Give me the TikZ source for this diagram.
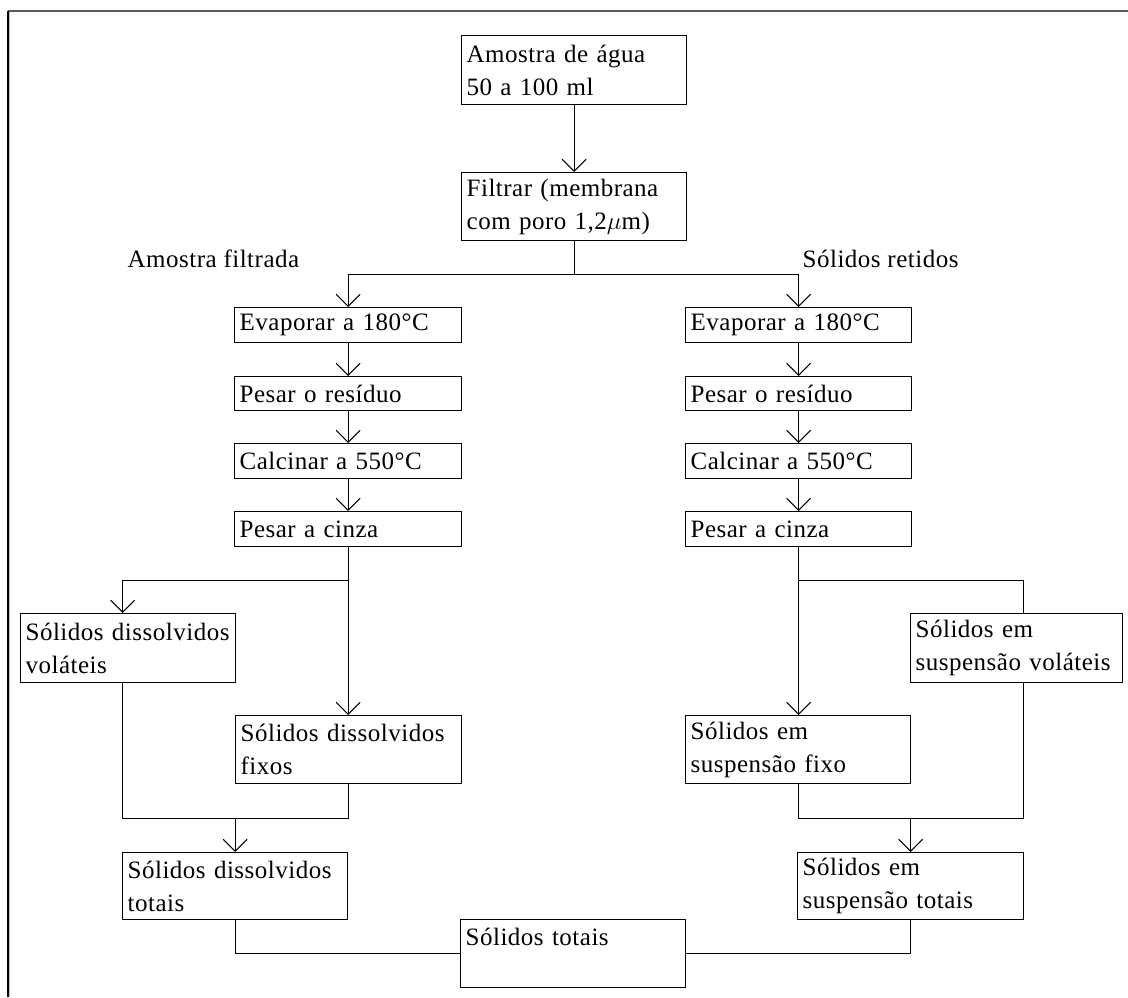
\documentclass[tikz,border=0pt]{standalone}
\usepackage{fontspec}
\setmainfont{Liberation Serif}[LetterSpace=2]
\usetikzlibrary{arrows.meta,calc}
\begin{document}
\begin{tikzpicture}[x=1pt,y=-1pt,
  font=\fontsize{25}{33}\selectfont,
  line width=1.3pt,
  box/.style={draw, rectangle, anchor=north west, inner xsep=5pt, inner ysep=0pt, align=left},
  arr/.style={-{Straight Barb[length=12pt,width=24pt,line width=1.1pt]}},
  lbl/.style={anchor=west, inner sep=0pt}]
\useasboundingbox (0,0) rectangle (1128,997);
% frame
\draw[line width=2pt, black!65] (8,11) -- (1128,11);
\draw[line width=1.5pt, black] (8,11) -- (8,997);
\draw[line width=1pt, black!25] (9.8,12) -- (9.8,997);
% boxes
\newcommand{\bx}[7]{\node[box, minimum width=#3, minimum height=#4, text width=#3-10pt] (#1) at (#5,#6) {#7};}
\bx{a}{}{225pt}{69pt}{461}{35}{Amostra de água\\50 a 100 ml}
\bx{f}{}{225pt}{68pt}{461}{172}{Filtrar (membrana\\com poro 1,2$\mu$m)}
% left column
\bx{le}{}{227pt}{35pt}{234}{307}{Evaporar a 180°C}
\bx{lp}{}{227pt}{34pt}{234}{376}{Pesar o resíduo}
\bx{lc}{}{227pt}{35pt}{234}{443}{Calcinar a 550°C}
\bx{lz}{}{227pt}{35pt}{234}{511}{Pesar a cinza}
% right column
\bx{re}{}{226pt}{35pt}{685}{307}{Evaporar a 180°C}
\bx{rp}{}{226pt}{34pt}{685}{376}{Pesar o resíduo}
\bx{rc}{}{226pt}{35pt}{685}{443}{Calcinar a 550°C}
\bx{rz}{}{226pt}{35pt}{685}{511}{Pesar a cinza}
% lower boxes
\bx{dv}{}{215pt}{69pt}{20}{613}{Sólidos dissolvidos\\voláteis}
\bx{df}{}{226pt}{68pt}{235}{715}{Sólidos dissolvidos\\fixos}
\bx{dt}{}{225pt}{67pt}{122}{852}{Sólidos dissolvidos\\totais}
\bx{sv}{}{212pt}{69pt}{910}{613}{Sólidos em\\suspensão voláteis}
\bx{sf}{}{225pt}{68pt}{685}{715}{Sólidos em\\suspensão fixo}
\bx{st}{}{226pt}{67pt}{797}{852}{Sólidos em\\suspensão totais}
\bx{tot}{}{225pt}{68pt}{460}{919}{Sólidos totais\\\mbox{}}
% labels
\node[lbl] (lf) at (127,259) {Amostra filtrada};
\node[lbl] (lr) at (802,259) {Sólidos retidos};
% connectors
\draw[arr] (a.south) -- (f.south |- f.north);
\coordinate (j1) at ($(f.south)+(0,33)$);
\draw (f.south) -- (j1);
\draw[arr] (j1) -| (le.north);
\draw[arr] (j1) -| (re.north);
\foreach \u/\v in {le/lp, lp/lc, lc/lz, re/rp, rp/rc, rc/rz} \draw[arr] (\u.south) -- (\v.north);
% left lower
\coordinate (j2) at ($(lz.south)+(0,33)$);
\draw (lz.south) -- (j2);
\draw[arr] (j2) -| ($(dv.north)+(-5.5,0)$);
\draw[arr] (j2) -- (j2 |- df.north);
\coordinate (dvs) at ($(dv.south)+(-5.5,0)$);
\coordinate (j3) at ($(df.south)+(0,34)$);
\draw (dvs) -- (dvs |- j3) -| (df.south);
\draw[arr] (j3 -| dt.north) -- (dt.north);
\draw (dt.south) |- (tot.west);
% right lower
\coordinate (j4) at ($(rz.south)+(0,33)$);
\draw (rz.south) -- (j4);
\draw (j4) -| ($(sv.north)+(7,0)$);
\draw[arr] (j4) -- (j4 |- sf.north);
\coordinate (svs) at ($(sv.south)+(7,0)$);
\coordinate (j5) at ($(sf.south)+(0,34)$);
\draw (svs) -- (svs |- j5) -| (sf.south);
\draw[arr] (j5 -| st.north) -- (st.north);
\draw (st.south) |- (tot.east);
\end{tikzpicture}
\end{document}
